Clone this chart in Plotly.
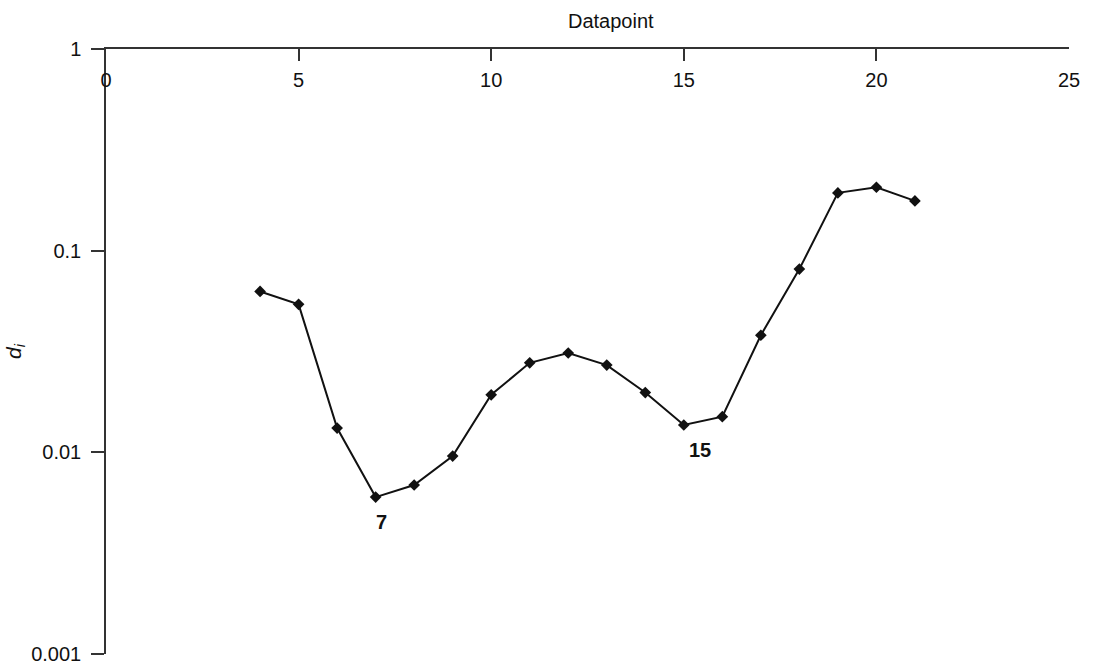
import math
import plotly.graph_objects as go

# Datapoint index and the corresponding d_i values
datapoints = [4, 5, 6, 7, 8, 9, 10, 11, 12, 13, 14, 15, 16, 17, 18, 19, 20, 21]
d_values = [0.0628, 0.0542, 0.0132, 0.0060, 0.00689, 0.00959, 0.0193, 0.0278,
            0.0311, 0.0271, 0.0198, 0.01367, 0.01503, 0.0381, 0.0811, 0.1936,
            0.2065, 0.1766]

# Highlighted datapoints
marked = [7, 15]

x_ticks = [0, 5, 10, 15, 20, 25]
y_ticks = [0.001, 0.01, 0.1, 1]
y_tick_labels = ["0.001", "0.01", "0.1", "1"]

FONT = "Liberation Sans, Arial, Helvetica, sans-serif"
INK = "#111111"
AXIS = "#333333"
FS = 20

fig = go.Figure()
fig.add_trace(go.Scatter(
    x=datapoints, y=d_values, mode="lines+markers",
    line=dict(color=INK, width=2),
    marker=dict(symbol="diamond", size=9, color=INK),
    showlegend=False, hoverinfo="x+y",
))

# invisible trace that brings the label-only x axis into existence
fig.add_trace(go.Scatter(x=[datapoints[0]], y=[d_values[0]], xaxis="x2",
                         mode="markers", marker=dict(opacity=0),
                         showlegend=False, hoverinfo="skip"))

label_dx = {7: 6, 15: 16}
for m in marked:
    fig.add_annotation(
        x=m, y=math.log10(d_values[datapoints.index(m)]), text=f"<b>{m}</b>",
        showarrow=False, yshift=-25, xshift=label_dx[m],
        font=dict(family=FONT, size=FS, color=INK),
    )

# axis title for the top x axis
fig.add_annotation(
    x=0.524, y=1, xref="paper", yref="paper", text="Datapoint",
    showarrow=False, yanchor="bottom", yshift=15,
    font=dict(family=FONT, size=FS, color=INK),
)

fig.update_layout(
    width=1096, height=665,
    margin=dict(l=106, r=27, t=49, b=11, autoexpand=False),
    paper_bgcolor="white", plot_bgcolor="white",
    font=dict(family=FONT, size=FS, color=INK),
    xaxis=dict(
        side="top", range=[0, 25], tickvals=x_ticks,
        ticks="inside", ticklen=12, tickwidth=1.5, tickcolor=AXIS,
        showticklabels=False, automargin=False,
        showline=True, linecolor=AXIS, linewidth=1.5,
        showgrid=False, zeroline=False,
    ),
    # tick labels sitting just below the top axis line
    xaxis2=dict(
        overlaying="x", matches="x", side="top", anchor="free",
        position=0.93, tickvals=x_ticks, ticks="", automargin=False,
        showline=False, showgrid=False, zeroline=False,
        tickfont=dict(size=FS, color=INK),
    ),
    yaxis=dict(
        type="log", range=[-3, 0.0005], tickvals=y_ticks, ticktext=y_tick_labels,
        ticks="outside", ticklen=13, tickwidth=1.5, tickcolor=AXIS,
        ticklabelstandoff=6, automargin=False,
        showline=True, linecolor=AXIS, linewidth=1.5,
        showgrid=False, zeroline=False,
        title=dict(text="<i>d<sub>i</sub></i>", standoff=4, font=dict(size=21)),
        tickfont=dict(size=FS),
    ),
)

fig.write_html("out.html")
